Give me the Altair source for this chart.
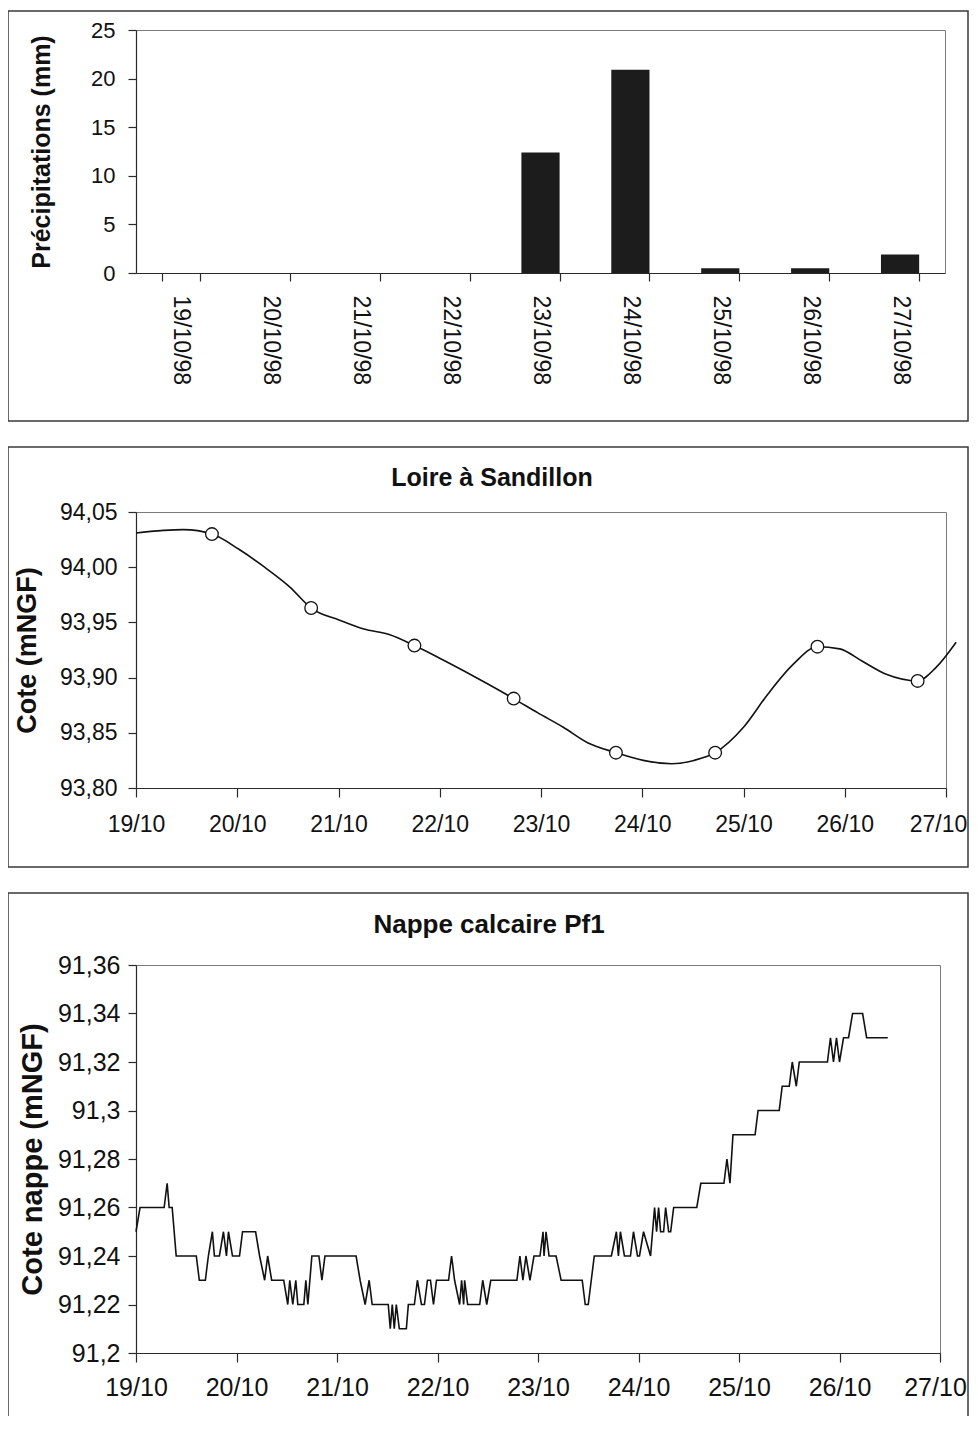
import altair as alt
import pandas as pd

FONT = "Liberation Sans"

# ---------------- data ----------------
rain_dates = ["19/10/98", "20/10/98", "21/10/98", "22/10/98", "23/10/98",
              "24/10/98", "25/10/98", "26/10/98", "27/10/98"]
rain_mm = [0, 0, 0, 0, 12.4, 20.9, 0.5, 0.5, 1.9]

# Loire à Sandillon (days after 19/10 00:00)
loire_day = [0.0, 0.47, 0.75, 1.02, 1.27, 1.52, 1.73, 2.01, 2.25, 2.50, 2.75,
             2.99, 3.24, 3.48, 3.73, 3.97, 4.22, 4.46, 4.74, 5.01, 5.29, 5.51,
             5.72, 6.00, 6.24, 6.49, 6.73, 6.95, 7.17, 7.41, 7.72, 7.90, 8.10]
loire_level = [94.031, 94.034, 94.030, 94.016, 94.000, 93.982, 93.963, 93.952,
               93.944, 93.939, 93.929, 93.918, 93.906, 93.894, 93.881, 93.868,
               93.855, 93.841, 93.832, 93.825, 93.822, 93.825, 93.832, 93.855,
               93.885, 93.912, 93.928, 93.926, 93.915, 93.903, 93.897, 93.909,
               93.932]
marker_day = [0.75, 1.73, 2.75, 3.73, 4.74, 5.72, 6.73, 7.72]
marker_level = [94.030, 93.963, 93.929, 93.881, 93.832, 93.832, 93.928, 93.897]

# Nappe calcaire Pf1
nappe_day = [0.00, 0.04, 0.28, 0.31, 0.33, 0.36, 0.40, 0.60, 0.63, 0.69, 0.72,
             0.76, 0.78, 0.83, 0.87, 0.90, 0.92, 0.96, 1.03, 1.06, 1.19, 1.23,
             1.28, 1.31, 1.35, 1.47, 1.51, 1.53, 1.56, 1.59, 1.61, 1.67, 1.69,
             1.71, 1.75, 1.82, 1.85, 1.88, 2.19, 2.23, 2.28, 2.32, 2.35, 2.51,
             2.53, 2.55, 2.57, 2.59, 2.62, 2.69, 2.71, 2.77, 2.80, 2.84, 2.87,
             2.90, 2.93, 2.96, 2.99, 3.11, 3.14, 3.17, 3.22, 3.24, 3.26, 3.27,
             3.30, 3.42, 3.45, 3.49, 3.53, 3.79, 3.82, 3.85, 3.88, 3.92, 3.96,
             4.02, 4.05, 4.06, 4.08, 4.11, 4.18, 4.23, 4.44, 4.47, 4.50, 4.53,
             4.56, 4.73, 4.78, 4.80, 4.82, 4.86, 4.92, 4.95, 4.99, 5.01, 5.05,
             5.12, 5.16, 5.18, 5.20, 5.22, 5.25, 5.27, 5.30, 5.32, 5.35, 5.58,
             5.62, 5.85, 5.88, 5.91, 5.94, 6.16, 6.19, 6.40, 6.43, 6.50, 6.53,
             6.57, 6.60, 6.88, 6.91, 6.94, 6.97, 7.00, 7.04, 7.09, 7.13, 7.23,
             7.27, 7.48]
nappe_level = [91.25, 91.26, 91.26, 91.27, 91.26, 91.26, 91.24, 91.24, 91.23, 91.23, 91.24,
               91.25, 91.24, 91.24, 91.25, 91.24, 91.25, 91.24, 91.24, 91.25, 91.25, 91.24,
               91.23, 91.24, 91.23, 91.23, 91.22, 91.23, 91.22, 91.23, 91.22, 91.22, 91.23,
               91.22, 91.24, 91.24, 91.23, 91.24, 91.24, 91.23, 91.22, 91.23, 91.22, 91.22,
               91.21, 91.22, 91.21, 91.22, 91.21, 91.21, 91.22, 91.22, 91.23, 91.22, 91.22,
               91.23, 91.23, 91.22, 91.23, 91.23, 91.24, 91.23, 91.22, 91.23, 91.22, 91.23,
               91.22, 91.22, 91.23, 91.22, 91.23, 91.23, 91.24, 91.23, 91.24, 91.23, 91.24,
               91.24, 91.25, 91.24, 91.25, 91.24, 91.24, 91.23, 91.23, 91.22, 91.22, 91.23,
               91.24, 91.24, 91.25, 91.24, 91.25, 91.24, 91.24, 91.25, 91.24, 91.24, 91.25,
               91.24, 91.26, 91.25, 91.26, 91.25, 91.25, 91.26, 91.25, 91.25, 91.26, 91.26,
               91.27, 91.27, 91.28, 91.27, 91.29, 91.29, 91.30, 91.30, 91.31, 91.31, 91.32,
               91.31, 91.32, 91.32, 91.33, 91.32, 91.33, 91.32, 91.33, 91.33, 91.34, 91.34,
               91.33, 91.33]

day_ticks = [0, 1, 2, 3, 4, 5, 6, 7, 8]

rain_df = pd.DataFrame({"date": rain_dates, "mm": rain_mm})
loire_df = pd.DataFrame({"day": loire_day, "level": loire_level})
marker_df = pd.DataFrame({"day": marker_day, "level": marker_level})
nappe_df = pd.DataFrame({"day": nappe_day, "level": nappe_level})

DARK = "#2a2a2a"
FRAME = "#3a3a3a"
one = alt.Data(values=[{}])

L = 128          # frame left, relative to plot origin (same for every panel)
RIGHT = 832      # frame right, relative to plot origin


def frame(top, bottom):
    return alt.Chart(one).mark_rect(fill="transparent", stroke=FRAME,
                                    strokeWidth=1.5).encode(
        x=alt.value(-L), x2=alt.value(RIGHT), y=alt.value(top), y2=alt.value(bottom))


def label_text(txt, x, y, size):
    return alt.Chart(one).mark_text(text=txt, font=FONT, fontSize=size, fontWeight="bold",
                                    align="center", baseline="middle", color="#111").encode(
        x=alt.value(x), y=alt.value(y))


date_label = "(19 + datum.value) + '/10'"


def last_shift(px):
    return {"condition": {"test": "datum.value == 8", "value": px}, "value": 0}


# ---------------- panel 1 : rainfall ----------------
W1, H1 = 809, 243
bars = alt.Chart(rain_df).mark_bar(color="#1c1c1c").encode(
    x=alt.X("date:N", sort=rain_dates,
            scale=alt.Scale(paddingInner=0.575, paddingOuter=0.2875),
            axis=alt.Axis(title=None, labelAngle=90, labelAlign="left", labelBaseline="middle",
                          tickBand="extent", tickSize=8, labelPadding=14, labelFontSize=23)),
    y=alt.Y("mm:Q", scale=alt.Scale(domain=[0, 25], nice=False),
            axis=alt.Axis(values=[0, 5, 10, 15, 20, 25], title="Précipitations (mm)",
                          titleFontSize=25, titleFontWeight="bold", titlePadding=36,
                          tickSize=8, labelPadding=13, labelFontSize=22)),
)
p1 = alt.layer(bars, frame(-19, H1 + 148)).properties(width=W1, height=H1)

# ---------------- panel 2 : Loire ----------------
W2, H2 = 810, 276
x2 = alt.X("day:Q", scale=alt.Scale(domain=[0, 8], nice=False),
           axis=alt.Axis(values=day_ticks, labelExpr=date_label, title=None, tickSize=9,
                         labelPadding=16, labelFontSize=23, labelFlush=False,
                         labelOverlap=False, labelOffset=last_shift(-8)))
y2 = alt.Y("level:Q", scale=alt.Scale(domain=[93.80, 94.05], nice=False, zero=False),
           axis=alt.Axis(values=[93.80, 93.85, 93.90, 93.95, 94.00, 94.05],
                         labelExpr="replace(format(datum.value, '.2f'), '.', ',')",
                         title="Cote (mNGF)", titleFontSize=27, titleFontWeight="bold",
                         titlePadding=18, tickSize=8, labelPadding=11, labelFontSize=23,
                         labelFlush=False))
loire_line = alt.Chart(loire_df).mark_line(color="#111", strokeWidth=1.6,
                                           interpolate="monotone").encode(x=x2, y=y2)
loire_pts = alt.Chart(marker_df).mark_point(shape="circle", filled=True, fill="white",
                                            stroke="#111", strokeWidth=1.3, size=160,
                                            opacity=1).encode(x="day:Q", y="level:Q")
p2 = alt.layer(loire_line, loire_pts, frame(-65, H2 + 79),
               label_text("Loire à Sandillon", 356, -34, 25)).properties(width=W2, height=H2)

# ---------------- panel 3 : Nappe ----------------
W3, H3 = 804, 388
x3 = alt.X("day:Q", scale=alt.Scale(domain=[0, 8], nice=False),
           axis=alt.Axis(values=day_ticks, labelExpr=date_label, title=None, tickSize=9,
                         labelPadding=13, labelFontSize=25, labelFlush=False,
                         labelOverlap=False, labelOffset=last_shift(-5)))
y3 = alt.Y("level:Q", scale=alt.Scale(domain=[91.2, 91.36], nice=False, zero=False),
           axis=alt.Axis(values=[91.2, 91.22, 91.24, 91.26, 91.28, 91.3, 91.32, 91.34, 91.36],
                         labelExpr="replace(format(datum.value, '.2~f'), '.', ',')",
                         title="Cote nappe (mNGF)", titleFontSize=29, titleFontWeight="bold",
                         titlePadding=10, tickSize=8, labelPadding=8, labelFontSize=25,
                         labelFlush=False))
nappe_line = alt.Chart(nappe_df).mark_line(color="#111", strokeWidth=1.6).encode(x=x3, y=y3)
p3 = alt.layer(nappe_line, frame(-72, H3 + 200),
               label_text("Nappe calcaire Pf1", 353, -40, 26)).properties(width=W3, height=H3)

chart = alt.vconcat(p1, p2, p3, spacing=22).properties(
    autosize=alt.AutoSizeParams(type="none"),
    padding={"left": 128, "top": 22, "right": 833, "bottom": 1386}
).configure_view(stroke="#7a7a7a", strokeWidth=1).configure_axis(
    grid=False, domainColor=DARK, tickColor=DARK, labelColor="#111", titleColor="#111",
    labelFont=FONT, titleFont=FONT, domainWidth=1.2, tickWidth=1.2
)

chart.save("out.html", embed_options={"renderer": "svg", "actions": False})
